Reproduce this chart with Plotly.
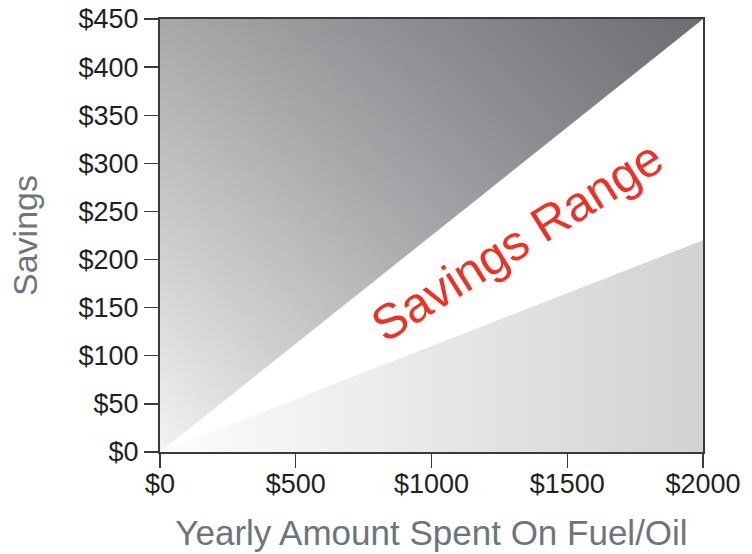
import plotly.graph_objects as go

# ---- data ----
x_spent = [0, 2000]            # yearly amount spent on fuel/oil ($)
savings_high = [0, 450]        # upper bound of savings ($)
savings_low = [0, 220]         # lower bound of savings ($)
x_tickvals = [0, 500, 1000, 1500, 2000]
x_ticktext = ["$0", "$500", "$1000", "$1500", "$2000"]
y_tickvals = [0, 50, 100, 150, 200, 250, 300, 350, 400, 450]
y_ticktext = ["$0", "$50", "$100", "$150", "$200", "$250", "$300", "$350", "$400", "$450"]
x_range = [0, 2000]
y_range = [0, 450]
label_text = "Savings Range"

FONT = "Liberation Sans, Arial, Helvetica, sans-serif"

fig = go.Figure()

# upper (above max savings) region polygon: along high line, then top-left corner
up_x = x_spent + [x_range[0]]
up_y = savings_high + [y_range[1]]
fig.add_trace(go.Scatter(
    x=up_x, y=up_y, fill="toself", mode="none", hoverinfo="skip", showlegend=False,
    fillgradient=dict(type="horizontal", start=x_range[0], stop=x_range[1],
                      colorscale=[[0, "rgb(243,243,244)"], [1, "rgb(148,149,153)"]]),
))
fig.add_trace(go.Scatter(
    x=up_x, y=up_y, fill="toself", mode="none", hoverinfo="skip", showlegend=False,
    fillgradient=dict(type="vertical", start=y_range[0], stop=y_range[1],
                      colorscale=[[0, "rgba(40,41,46,0)"], [1, "rgba(40,41,46,0.37)"]]),
))

# lower (below min savings) region polygon: along low line, then bottom-right corner
lo_x = x_spent + [x_range[1]]
lo_y = savings_low + [y_range[0]]
fig.add_trace(go.Scatter(
    x=lo_x, y=lo_y, fill="toself", mode="none", hoverinfo="skip", showlegend=False,
    fillgradient=dict(type="horizontal", start=x_range[0], stop=x_range[1],
                      colorscale=[[0, "rgb(253,253,253)"], [1, "rgb(209,210,212)"]]),
))

fig.add_annotation(
    x=1315, y=219, xref="x", yref="y", text=label_text, showarrow=False,
    textangle=-32, font=dict(family=FONT, size=49, color="#ee3124"),
)

axis_common = dict(
    showgrid=False, zeroline=False, showline=True, linecolor="#3a3a3c", linewidth=2,
    mirror=True, ticks="outside", ticklen=14, tickwidth=1.3, tickcolor="#3a3a3c",
    tickfont=dict(family=FONT, size=27, color="#231f20"), automargin=False,
    ticklabeloverflow="allow",
)

fig.update_xaxes(
    range=x_range, tickvals=x_tickvals, ticktext=x_ticktext, **axis_common,
    ticklabelstandoff=-7,
    title=dict(text="Yearly Amount Spent On Fuel/Oil",
               font=dict(family=FONT, size=35, color="#6d757b"), standoff=22),
)
fig.update_yaxes(
    range=y_range, tickvals=y_tickvals, ticktext=y_ticktext, **axis_common,
    title=dict(text="Savings", font=dict(family=FONT, size=34, color="#6d757b"), standoff=31),
)

fig.update_layout(
    width=752, height=554,
    margin=dict(l=160, r=49, t=19, b=102),
    plot_bgcolor="white", paper_bgcolor="white",
)

fig.write_html("out.html",
               config={"displayModeBar": False, "staticPlot": True},
               post_script="document.body.style.margin='0';document.body.style.overflow='hidden';")
